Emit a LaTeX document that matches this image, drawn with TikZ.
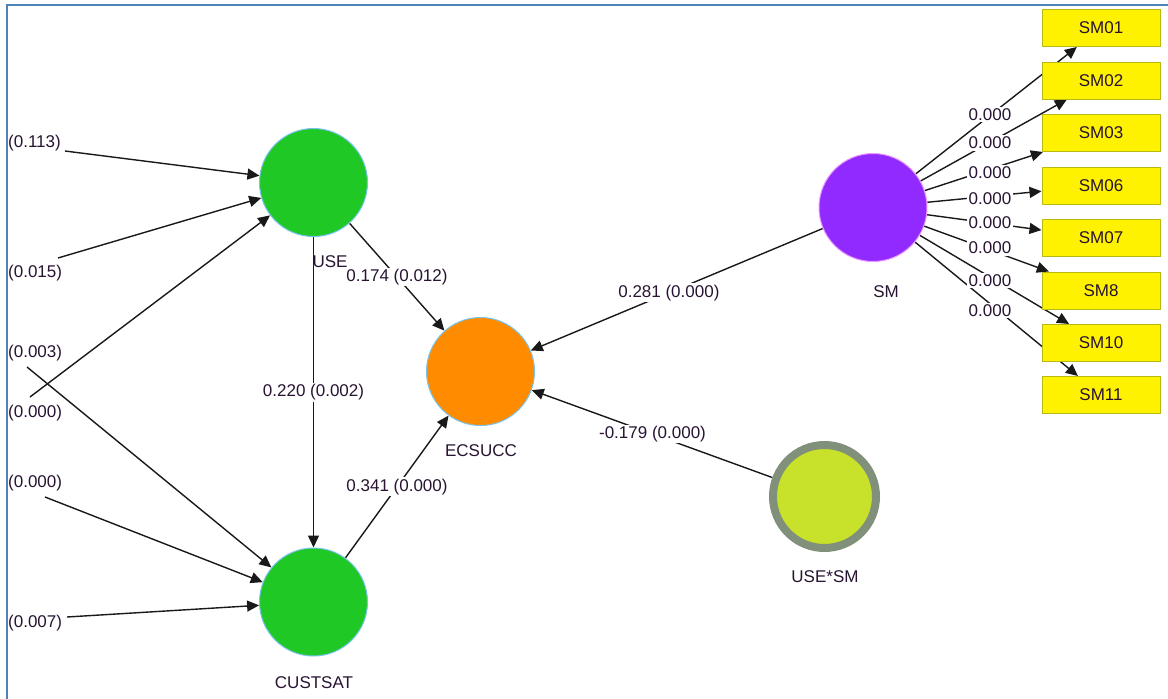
\documentclass[tikz,border=0pt]{standalone}
\usepackage{fontspec}
\setmainfont{Liberation Sans}
\usetikzlibrary{arrows.meta}
\pgfdeclarelayer{lines}
\pgfsetlayers{lines,main}
\definecolor{framecol}{RGB}{79,129,189}
\definecolor{txtcol}{RGB}{40,20,50}
\definecolor{linecol}{RGB}{25,25,25}
\definecolor{lvgreen}{RGB}{32,200,38}
\definecolor{lvorange}{RGB}{255,140,0}
\definecolor{lvpurple}{RGB}{145,42,255}
\definecolor{lvlime}{RGB}{200,225,42}
\definecolor{ringgray}{RGB}{128,144,122}
\definecolor{rimblue}{RGB}{120,195,235}
\definecolor{rimpink}{RGB}{235,150,255}
\definecolor{boxline}{RGB}{185,185,20}
\tikzset{
  lv/.style={circle, inner sep=0pt, minimum size=108pt, line width=1pt},
  indbox/.style={rectangle, draw=boxline, fill=yellow, line width=1pt,
    minimum width=118pt, minimum height=37pt, inner sep=0pt, text=txtcol},
  edge/.style={draw=linecol, line width=1.4pt,
    -{Triangle[length=12pt,width=11pt]}},
  coef/.style={fill=white, inner sep=1.5pt, text=txtcol},
  lvname/.style={text=txtcol, inner sep=0pt},
}
\begin{document}
\begin{tikzpicture}[x=1pt, y=-1pt, font=\fontsize{17}{20}\selectfont]
\useasboundingbox (0,0) rectangle (1168,699);
\begin{pgfonlayer}{lines}
\fill[white] (0,0) rectangle (1168,699);
\end{pgfonlayer}
\draw[framecol, line width=2.2pt] (7,699) -- (7,5) -- (1168,5);

% latent variables
\node[lv, fill=lvgreen, draw=rimblue] (USE) at (313.5,182.5) {};
\node[lv, fill=lvgreen, draw=rimblue] (CUSTSAT) at (313.5,602) {};
\node[lv, fill=lvorange, draw=rimblue] (ECSUCC) at (480.5,371.5) {};
\node[lv, fill=lvpurple, draw=rimpink] (SM) at (873,207.5) {};
\node[circle, inner sep=0pt, minimum size=103pt, fill=lvlime, draw=ringgray,
  line width=8pt] (USESM) at (824.5,496.5) {};

% free ends of the incoming paths on the left
\coordinate (a1) at (65,151);
\coordinate (a2) at (58,258);
\coordinate (a3) at (30,397);
\coordinate (a4) at (27,367);
\coordinate (a5) at (45,497);
\coordinate (a6) at (67,617);

% path coefficients
\path (USE) -- (CUSTSAT) node[coef, midway] {0.220 (0.002)};
\path (USE) -- (ECSUCC) node[coef, midway] {0.174 (0.012)};
\path (CUSTSAT) -- (ECSUCC) node[coef, midway] {0.341 (0.000)};
\path (SM.center) -- (ECSUCC.center) node[coef, pos=0.52] {0.281 (0.000)};
\path (USESM.center) -- (ECSUCC.center) node[coef, midway] {-0.179 (0.000)};

% indicator boxes and outer loadings
\foreach \n/\t/\yy/\dy in {B1/SM01/28/-3, B2/SM02/80.5/-1, B3/SM03/133/2,
    B6/SM06/185.5/2, B7/SM07/238/0, B8/SM8/290.5/-1, B10/SM10/343/5, B11/SM11/395/9}{
  \path (SM.center) -- (1101,\yy) node[coef, midway, yshift=-\dy pt, xshift=3pt] {0.000};
  \node[indbox] (\n) at (1101,\yy) {\t};
}

\begin{pgfonlayer}{lines}
\draw[edge] (a1) -- (USE);
\draw[edge] (a2) -- (USE);
\draw[edge] (a3) -- (USE);
\draw[edge] (a4) -- (CUSTSAT);
\draw[edge] (a5) -- (CUSTSAT);
\draw[edge] (a6) -- (CUSTSAT);

\draw[edge] (USE) -- (CUSTSAT);
\draw[edge] (USE) -- (ECSUCC);
\draw[edge] (CUSTSAT) -- (ECSUCC);
\draw[edge] (SM) -- (ECSUCC);
\draw[edge] (USESM) -- (ECSUCC);

\foreach \n in {B1,B2,B3,B6,B7,B8,B10,B11}
  \draw[edge] (SM) -- (\n);
\end{pgfonlayer}

% left-hand p-values
\node[lvname, anchor=west] (p1) at (8,143) {(0.113)};
\node[lvname, anchor=west] (p2) at (8,273) {(0.015)};
\node[lvname, anchor=west] (p3) at (8,353) {(0.003)};
\node[lvname, anchor=west] (p4) at (8,413) {(0.000)};
\node[lvname, anchor=west] (p5) at (8,483) {(0.000)};
\node[lvname, anchor=west] (p6) at (8,623) {(0.007)};

% construct names
\node[lvname] (nUSE) at (330,262) {USE};
\node[lvname] (nCUSTSAT) at (314,683) {CUSTSAT};
\node[lvname] (nECSUCC) at (481,451) {ECSUCC};
\node[lvname] (nSM) at (886,292) {SM};
\node[lvname] (nUSESM) at (825,577) {USE*SM};
\end{tikzpicture}
\end{document}
